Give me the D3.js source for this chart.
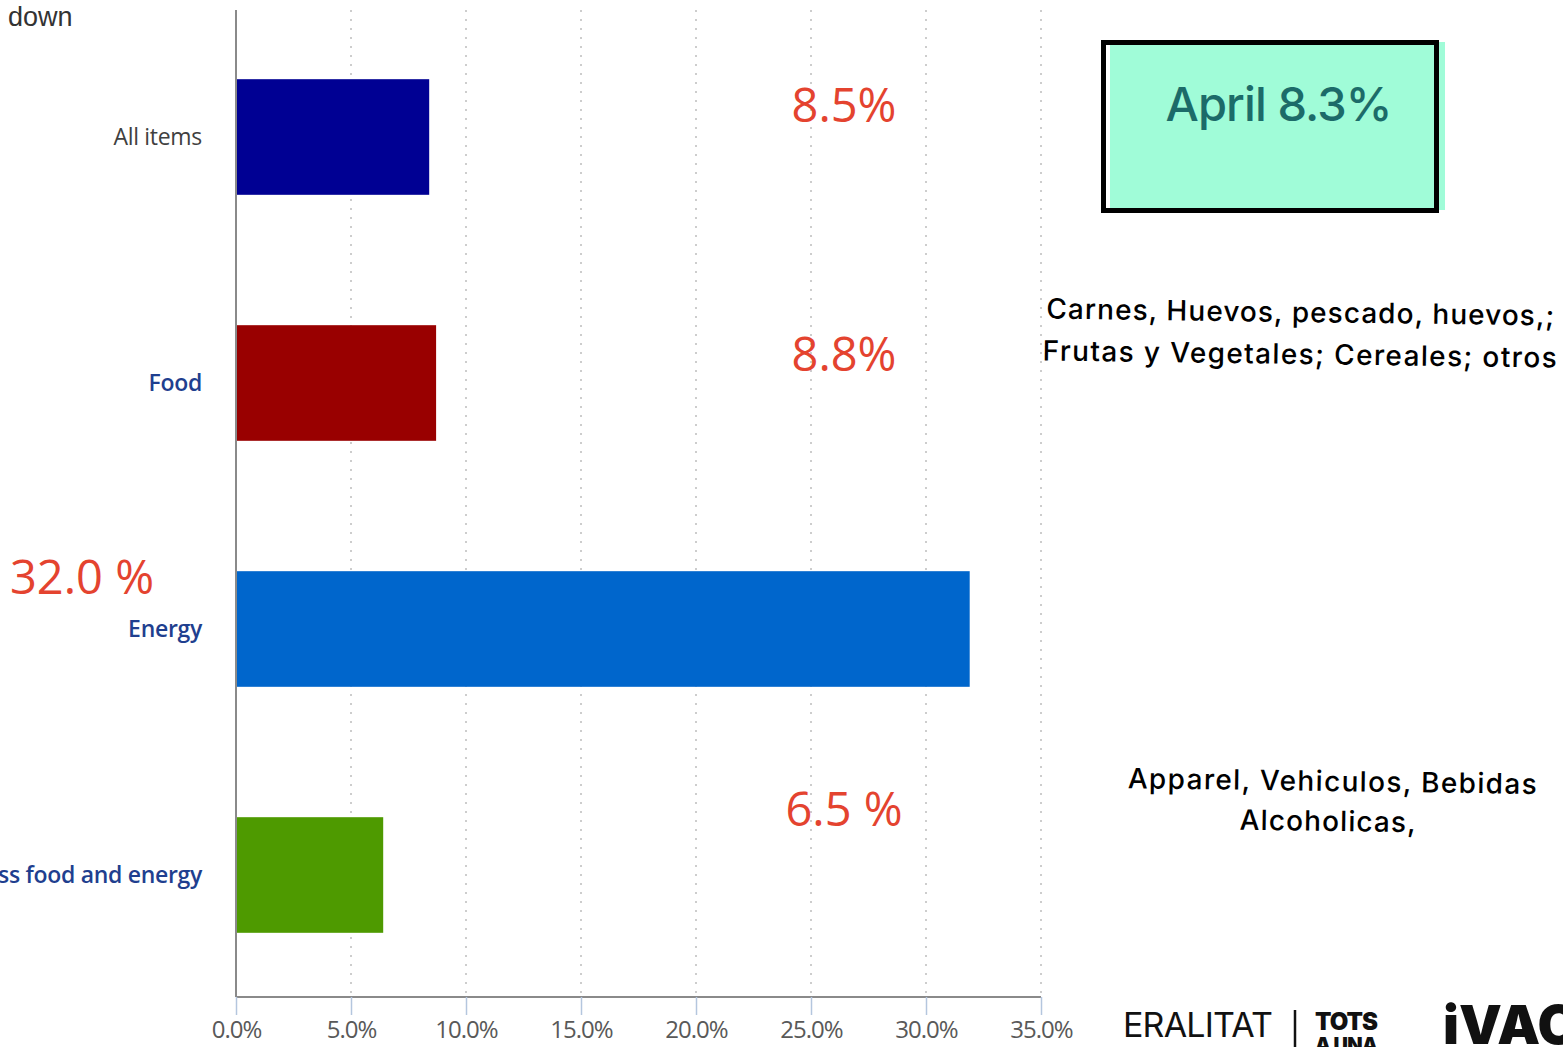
<!DOCTYPE html>
<html><head><meta charset="utf-8">
<script src="https://cdn.jsdelivr.net/npm/d3@7"></script>
<style>html,body{margin:0;padding:0;background:#fff;overflow:hidden}</style>
</head><body>
<svg id="c" width="1563" height="1047"></svg>
<script>
const categories = ["All items", "Food", "Energy", "All items less food and energy"];
const values = [8.4, 8.7, 31.9, 6.4];
const valueLabels = ["8.5%", "8.8%", "32.0 %", "6.5 %"];
const barColors = ["#000093", "#990000", "#0066cc", "#4e9a00"];
const labelColors = ["#404040", "#1f3f8f", "#1f3f8f", "#1f3f8f"];
const ticks = [0, 5, 10, 15, 20, 25, 30, 35];
const boxText = "April 8.3%";
const foodNote = ["Carnes, Huevos, pescado, huevos,;", "Frutas y Vegetales; Cereales; otros"];
const coreNote = ["Apparel, Vehiculos, Bebidas", "Alcoholicas,"];

const svg = d3.select("#c");
const x = d3.scaleLinear().domain([0, 35]).range([236, 1041]);
const y = d3.scaleBand().domain(categories).range([14, 998]).paddingInner(0.53).paddingOuter(0.265);
const axisY = 997;

// gridlines
svg.append("g").selectAll("line").data(ticks.slice(1)).join("line")
  .attr("x1", d => x(d)).attr("x2", d => x(d)).attr("y1", 10).attr("y2", axisY)
  .attr("stroke", "#bdbdbd").attr("stroke-width", 1.5).attr("stroke-dasharray", "2,7");

// bars
svg.append("g").selectAll("rect").data(values).join("rect")
  .attr("x", x(0)).attr("y", (d, i) => y(categories[i]))
  .attr("width", d => x(d) - x(0)).attr("height", y.bandwidth())
  .attr("fill", (d, i) => barColors[i]);

// axes lines
svg.append("line").attr("x1", x(0)).attr("x2", x(0)).attr("y1", 10).attr("y2", axisY)
  .attr("stroke", "#8a8a8a").attr("stroke-width", 2);
svg.append("line").attr("x1", x(0)).attr("x2", x(35)).attr("y1", axisY).attr("y2", axisY)
  .attr("stroke", "#8a8a8a").attr("stroke-width", 2);

// x axis ticks + labels
const xa = svg.append("g").attr("transform", `translate(0,${axisY})`)
  .call(d3.axisBottom(x).tickValues(ticks).tickSize(18).tickFormat(d => d.toFixed(1) + "%"));
xa.select(".domain").remove();
xa.selectAll(".tick line").attr("stroke", "#b4c6de").attr("stroke-width", 1.5);
xa.selectAll(".tick text").attr("fill", "#595959").attr("font-family", "Open Sans, sans-serif")
  .attr("font-size", 24).attr("dy", 0).attr("y", 41).style("letter-spacing", "-1px");

// category labels
svg.append("g").selectAll("text").data(categories).join("text")
  .attr("x", 202).attr("y", d => y(d) + y.bandwidth() / 2 + 8)
  .attr("text-anchor", "end").attr("font-family", "Open Sans, sans-serif")
  .attr("font-size", 23).attr("font-weight", (d, i) => i === 0 ? 400 : 600)
  .attr("fill", (d, i) => labelColors[i]).style("letter-spacing", "-0.3px")
  .text(d => d);

// truncated title fragment
svg.append("text").attr("x", 8).attr("y", 26).attr("font-family", "Liberation Sans, Arial, sans-serif")
  .attr("font-size", 27).attr("fill", "#333").text("down");

// red value labels
const redPos = [[844, 122, "middle"], [844, 371, "middle"], [10, 594, "start"], [844, 826, "middle"]];
svg.append("g").selectAll("text").data(valueLabels).join("text")
  .attr("x", (d, i) => redPos[i][0]).attr("y", (d, i) => redPos[i][1])
  .attr("text-anchor", (d, i) => redPos[i][2])
  .attr("font-family", "Open Sans, sans-serif").attr("font-size", 47)
  .attr("fill", "#e4432f").text(d => d);

// April box
svg.append("rect").attr("x", 1110).attr("y", 42).attr("width", 335).attr("height", 168).attr("fill", "#a0fcd8");
svg.append("rect").attr("x", 1103.5).attr("y", 42.5).attr("width", 333).attr("height", 168)
  .attr("fill", "none").attr("stroke", "#000").attr("stroke-width", 5);
svg.append("text").attr("x", 1279).attr("y", 121).attr("text-anchor", "middle")
  .attr("font-family", "Inter, sans-serif").attr("font-size", 47).attr("font-weight", 500)
  .attr("fill", "#1c6b69").attr("textLength", 227).text(boxText);

// notes
const fn = svg.append("g").attr("transform", "rotate(0.8,1300,335)");
fn.selectAll("text").data(foodNote).join("text")
  .attr("x", 1300).attr("y", (d, i) => 322 + i * 42).attr("text-anchor", "middle")
  .attr("font-family", "Inter, sans-serif").attr("font-size", 28).attr("font-weight", 500)
  .attr("fill", "#000").attr("textLength", (d, i) => i === 0 ? 508 : 514).text(d => d);
const cn = svg.append("g").attr("transform", "rotate(0.8,1332,800)");
cn.selectAll("text").data(coreNote).join("text")
  .attr("x", (d, i) => i === 0 ? 1332 : 1328).attr("y", (d, i) => 791 + i * 40).attr("text-anchor", "middle")
  .attr("font-family", "Inter, sans-serif").attr("font-size", 28).attr("font-weight", 500)
  .attr("fill", "#000").attr("textLength", (d, i) => i === 0 ? 409 : 176).text(d => d);

// logos (as text)
svg.append("text").attr("x", 1123).attr("y", 1037).attr("font-family", "Inter, sans-serif")
  .attr("font-size", 34).attr("font-weight", 400).attr("fill", "#111").attr("textLength", 150).text("ERALITAT");
svg.append("line").attr("x1", 1295).attr("x2", 1295).attr("y1", 1010).attr("y2", 1047).attr("stroke", "#111").attr("stroke-width", 2.5);
svg.append("text").attr("x", 1315).attr("y", 1030).attr("font-family", "Inter, sans-serif")
  .attr("font-size", 24).attr("font-weight", 900).attr("fill", "#111").attr("textLength", 63).text("TOTS");
svg.append("text").attr("x", 1315).attr("y", 1052).attr("font-family", "Inter, sans-serif")
  .attr("font-size", 20).attr("font-weight", 900).attr("fill", "#111").attr("textLength", 63).text("A UNA");
svg.append("text").attr("x", 1443).attr("y", 1044).attr("font-family", "Inter, sans-serif")
  .attr("font-size", 54).attr("font-weight", 900).attr("fill", "#111").text("iVAC");
</script>
</body></html>
